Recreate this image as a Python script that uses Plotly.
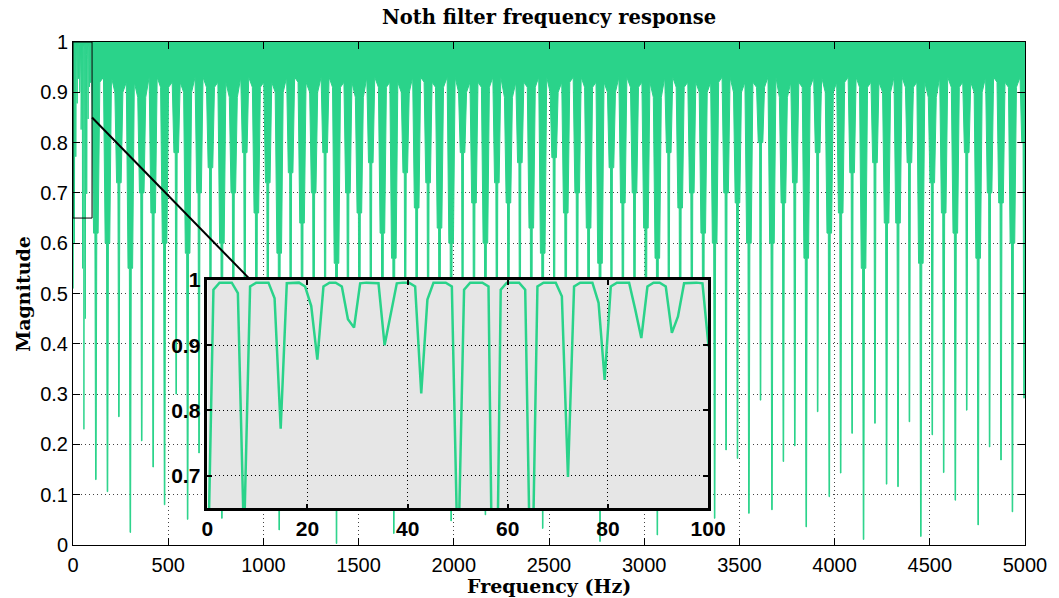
import plotly.graph_objects as go

# ---------------- data ----------------
# low-frequency samples shown in the zoomed inset (Hz, magnitude)
inset_freq = [0.00, 1.22, 2.44, 3.66, 4.88, 6.10, 7.32, 8.54, 9.77, 10.99, 12.21, 13.43,
              14.65, 15.87, 17.09, 18.31, 19.53, 20.75, 21.97, 23.19, 24.41, 25.63, 26.86,
              28.08, 29.30, 30.52, 31.74, 32.96, 34.18, 35.40, 36.62, 37.84, 39.06, 40.28,
              41.50, 42.72, 43.95, 45.17, 46.39, 47.61, 48.83, 50.05, 51.27, 52.49, 53.71,
              54.93, 56.15, 57.37, 58.59, 59.81, 61.04, 62.26, 63.48, 64.70, 65.92, 67.14,
              68.36, 69.58, 70.80, 72.02, 73.24, 74.46, 75.68, 76.90, 78.13, 79.35, 80.57,
              81.79, 83.01, 84.23, 85.45, 86.67, 87.89, 89.11, 90.33, 91.55, 92.77, 93.99,
              95.21, 96.44, 97.66, 98.88, 100.10]
inset_mag = [0.51, 0.985, 0.996, 0.996, 0.996, 0.98, 0.60, 0.99, 0.996, 0.996, 0.996, 0.972,
             0.772, 0.995, 0.996, 0.996, 0.99, 0.96, 0.878, 0.99, 0.996, 0.996, 0.99,
             0.94, 0.927, 0.995, 0.996, 0.996, 0.995, 0.90, 0.95, 0.995, 0.996, 0.996,
             0.99, 0.826, 0.97, 0.996, 0.996, 0.996, 0.99, 0.55, 0.985, 0.996, 0.996,
             0.996, 0.99, 0.23, 0.985, 0.996, 0.996, 0.996, 0.985, 0.45, 0.99, 0.996,
             0.996, 0.996, 0.975, 0.698, 0.99, 0.996, 0.996, 0.996, 0.965, 0.847, 0.99,
             0.996, 0.996, 0.996, 0.955, 0.911, 0.99, 0.996, 0.996, 0.99, 0.919, 0.944,
             0.995, 0.996, 0.996, 0.995, 0.898]

# visible "teeth" of the full-band response (every ~60 Hz)
tooth_freq = [120, 181, 241, 301, 361, 421, 481, 542, 602, 662, 722, 782, 842, 902, 963,
              1023, 1083, 1143, 1203, 1264, 1324, 1384, 1444, 1504, 1564, 1625, 1685, 1745,
              1805, 1865, 1925, 1986, 2046, 2106, 2166, 2226, 2287, 2347, 2407, 2467, 2527,
              2588, 2648, 2708, 2768, 2828, 2888, 2949, 3009, 3069, 3129, 3189, 3250, 3310,
              3370, 3430, 3490, 3550, 3611, 3671, 3731, 3791, 3851, 3911, 3972, 4032, 4092,
              4152, 4212, 4273, 4333, 4393, 4453, 4513, 4573, 4634, 4694, 4754, 4814, 4874,
              4934, 4995]
# deepest value reached by each tooth
tooth_tip = [0.13, 0.106, 0.255, 0.025, 0.207, 0.155, 0.08, 0.30, 0.051, 0.183,
             0.25, 0.053, 0.2, 0.28, 0.15, 0.22, 0.03, 0.24, 0.12, 0.19, 0.27, 0.003,
             0.2, 0.15, 0.26, 0.1, 0.023, 0.25, 0.16, 0.22, 0.12, 0.048, 0.27, 0.18,
             0.06, 0.22, 0.17, 0.25, 0.1, 0.033, 0.26, 0.14, 0.2, 0.12, 0.007, 0.25,
             0.17, 0.2, 0.11, 0.02, 0.28, 0.15, 0.2, 0.1,
             0.053, 0.189, 0.172, 0.063, 0.288, 0.07, 0.166, 0.197, 0.036, 0.265, 0.096,
             0.143, 0.222, 0.011, 0.242, 0.121, 0.116, 0.245, 0.017, 0.219, 0.144, 0.089,
             0.268, 0.04, 0.195, 0.169, 0.066, 0.292]
# lower end of the thicker part of each tooth
tooth_neck = [0.43, 0.45, 0.32, 0.5, 0.36, 0.41, 0.47, 0.33, 0.48, 0.3,
              0.42, 0.42, 0.42, 0.42, 0.42, 0.42, 0.42, 0.42, 0.42, 0.42, 0.42, 0.42,
              0.42, 0.42, 0.42, 0.42, 0.42, 0.42, 0.42, 0.42, 0.42, 0.42, 0.42, 0.42,
              0.42, 0.42, 0.42, 0.42, 0.42, 0.42, 0.42, 0.42, 0.42, 0.42, 0.42, 0.42,
              0.42, 0.42, 0.42, 0.42, 0.42, 0.42, 0.42, 0.42,
              0.45, 0.381, 0.43, 0.477, 0.29, 0.474, 0.43, 0.375, 0.5, 0.315, 0.454,
              0.42, 0.36, 0.51, 0.35, 0.44, 0.44, 0.35, 0.51, 0.36, 0.42, 0.46,
              0.3, 0.5, 0.37, 0.4, 0.47, 0.3]
# lower end of the wide body of each tooth
tooth_body = [0.62, 0.6, 0.72, 0.55, 0.7, 0.66, 0.6, 0.78, 0.58, 0.7,
              0.75, 0.6, 0.7, 0.78, 0.66, 0.72, 0.58, 0.74, 0.64, 0.7, 0.78, 0.56,
              0.7, 0.66, 0.76, 0.62, 0.57, 0.74, 0.67, 0.72, 0.63, 0.6, 0.78, 0.68,
              0.6, 0.72, 0.68, 0.76, 0.63, 0.58, 0.77, 0.66, 0.7, 0.63, 0.56, 0.75,
              0.68, 0.7, 0.63, 0.57, 0.78, 0.67, 0.7, 0.62,
              0.6, 0.7, 0.68, 0.6, 0.8, 0.6, 0.68, 0.72, 0.57, 0.78, 0.62,
              0.66, 0.74, 0.55, 0.76, 0.64, 0.64, 0.76, 0.56, 0.72, 0.66, 0.62,
              0.78, 0.57, 0.7, 0.68, 0.6, 0.8]
# where the white gap before each tooth begins (lower edge of the dense band)
gap_top = [0.92, 0.93, 0.9, 0.92, 0.89, 0.93, 0.91, 0.92, 0.9, 0.93,
           0.91, 0.92, 0.89, 0.93, 0.91, 0.92, 0.9, 0.93, 0.92, 0.9, 0.93, 0.91,
           0.92, 0.89, 0.93, 0.91, 0.92, 0.9, 0.93, 0.92, 0.91, 0.93, 0.9, 0.92,
           0.91, 0.93, 0.89, 0.92, 0.91, 0.93, 0.9, 0.92, 0.93, 0.91, 0.92, 0.9,
           0.93, 0.91, 0.92, 0.89, 0.93, 0.91, 0.92, 0.9,
           0.92, 0.93, 0.9, 0.92, 0.91, 0.93, 0.89, 0.92, 0.91, 0.93, 0.9,
           0.92, 0.93, 0.91, 0.92, 0.9, 0.93, 0.91, 0.92, 0.89, 0.93, 0.91,
           0.92, 0.9, 0.93, 0.92, 0.91, 0.93]

x_ticks = [0, 500, 1000, 1500, 2000, 2500, 3000, 3500, 4000, 4500, 5000]
y_ticks = [0, 0.1, 0.2, 0.3, 0.4, 0.5, 0.6, 0.7, 0.8, 0.9, 1.0]
y_ticklabels = ["0", "0.1", "0.2", "0.3", "0.4", "0.5", "0.6", "0.7", "0.8", "0.9", "1"]
inset_xticks = [0, 20, 40, 60, 80, 100]
inset_yticks = [0.7, 0.8, 0.9, 1.0]
inset_yticklabels = ["0.7", "0.8", "0.9", "1"]

GREEN = "#2ad38a"

# ---------------- build the main response outline ----------------
px, py = [], []
for f, m in zip(inset_freq, inset_mag):
    if f < 99.5:
        px.append(f)
        py.append(m)
for c, b, n, s, g in zip(tooth_freq, tooth_body, tooth_neck, tooth_tip, gap_top):
    px += [c - 21, c - 12, c - 5, c - 5, c - 1.5, c - 1.5,
           c + 1.5, c + 1.5, c + 5, c + 5, c + 12, c + 21]
    py += [g, b, b, n, n, s, s, n, n, b, b, g]
px += [5020, 5020, 0, 0]
py += [gap_top[-1], 1.0, 1.0, inset_mag[0]]

fig = go.Figure()
fig.add_trace(go.Scatter(x=px, y=py, mode="lines", fill="toself", fillcolor=GREEN,
                         line=dict(color=GREEN, width=1), hoverinfo="skip",
                         showlegend=False, xaxis="x", yaxis="y"))
fig.add_trace(go.Scatter(x=inset_freq, y=inset_mag, mode="lines",
                         line=dict(color=GREEN, width=2.5), showlegend=False,
                         xaxis="x2", yaxis="y2"))

tick_font = dict(family="Liberation Sans, Arial, sans-serif", size=20, color="black")
inset_font = dict(family="Liberation Sans, Arial, sans-serif", size=21, color="black",
                  weight="bold")
grid_dash = "1px,3px"
serif = "DejaVu Serif, serif"

fig.update_layout(
    width=1059, height=598,
    margin=dict(l=73, r=29, t=42, b=53),
    paper_bgcolor="white", plot_bgcolor="white",
    title=dict(text="<b>Noth filter frequency response</b>", x=0.5, xanchor="center",
               xref="paper", y=1 - 17 / 598, yanchor="middle", yref="container",
               font=dict(family=serif, size=19.5, color="black")),
    xaxis=dict(range=[0, 5000], tickvals=x_ticks, ticks="inside", ticklen=7,
               tickcolor="black", showline=True, linecolor="black", linewidth=1,
               mirror="ticks", showgrid=True, gridcolor="#444", griddash=grid_dash,
               gridwidth=1, zeroline=False, tickfont=tick_font, domain=[0, 1],
               ticklabelstandoff=2),
    yaxis=dict(range=[0, 1], tickvals=y_ticks, ticktext=y_ticklabels, ticks="inside",
               ticklen=7, tickcolor="black", showline=True, linecolor="black",
               linewidth=1, mirror="ticks", showgrid=True, gridcolor="#444",
               griddash=grid_dash, gridwidth=1, zeroline=False, tickfont=tick_font,
               domain=[0, 1]),
    xaxis2=dict(range=[0, 100], tickvals=inset_xticks, ticks="inside", ticklen=5,
                tickwidth=2, tickcolor="black", showline=True, linecolor="black",
                linewidth=2.5, mirror="ticks", showgrid=True, gridcolor="black",
                griddash=grid_dash, zeroline=False, tickfont=inset_font,
                domain=[0.1411, 0.6671], anchor="y2"),
    yaxis2=dict(range=[0.65, 1], tickvals=inset_yticks, ticktext=inset_yticklabels,
                ticks="inside", ticklen=5, tickwidth=2, tickcolor="black",
                showline=True, linecolor="black", linewidth=2.5, mirror="ticks",
                showgrid=True, gridcolor="black", griddash=grid_dash, zeroline=False,
                tickfont=inset_font, domain=[0.073, 0.5268], anchor="x2"),
    shapes=[
        dict(type="rect", xref="x2", yref="y2", x0=0, x1=100, y0=0.65, y1=1,
             fillcolor="#e6e6e6", line=dict(width=0), layer="below"),
        dict(type="rect", xref="x", yref="y", x0=0, x1=100, y0=0.65, y1=1,
             line=dict(color="black", width=1), layer="above"),
        dict(type="line", xref="x", yref="y", x0=100, y0=0.85, x1=930, y1=0.528,
             line=dict(color="black", width=2), layer="above"),
    ],
    annotations=[
        dict(text="<b>Frequency (Hz)</b>", xref="paper", yref="paper", x=0.5,
             y=(545 - 586) / 503, xanchor="center", yanchor="middle", showarrow=False,
             font=dict(family=serif, size=19, color="black")),
        dict(text="<b>Magnitude</b>", xref="paper", yref="paper", x=(22 - 73) / 957,
             y=0.5, xanchor="center", yanchor="middle", textangle=-90, showarrow=False,
             font=dict(family=serif, size=19, color="black")),
    ],
)

fig.write_html("out.html")
